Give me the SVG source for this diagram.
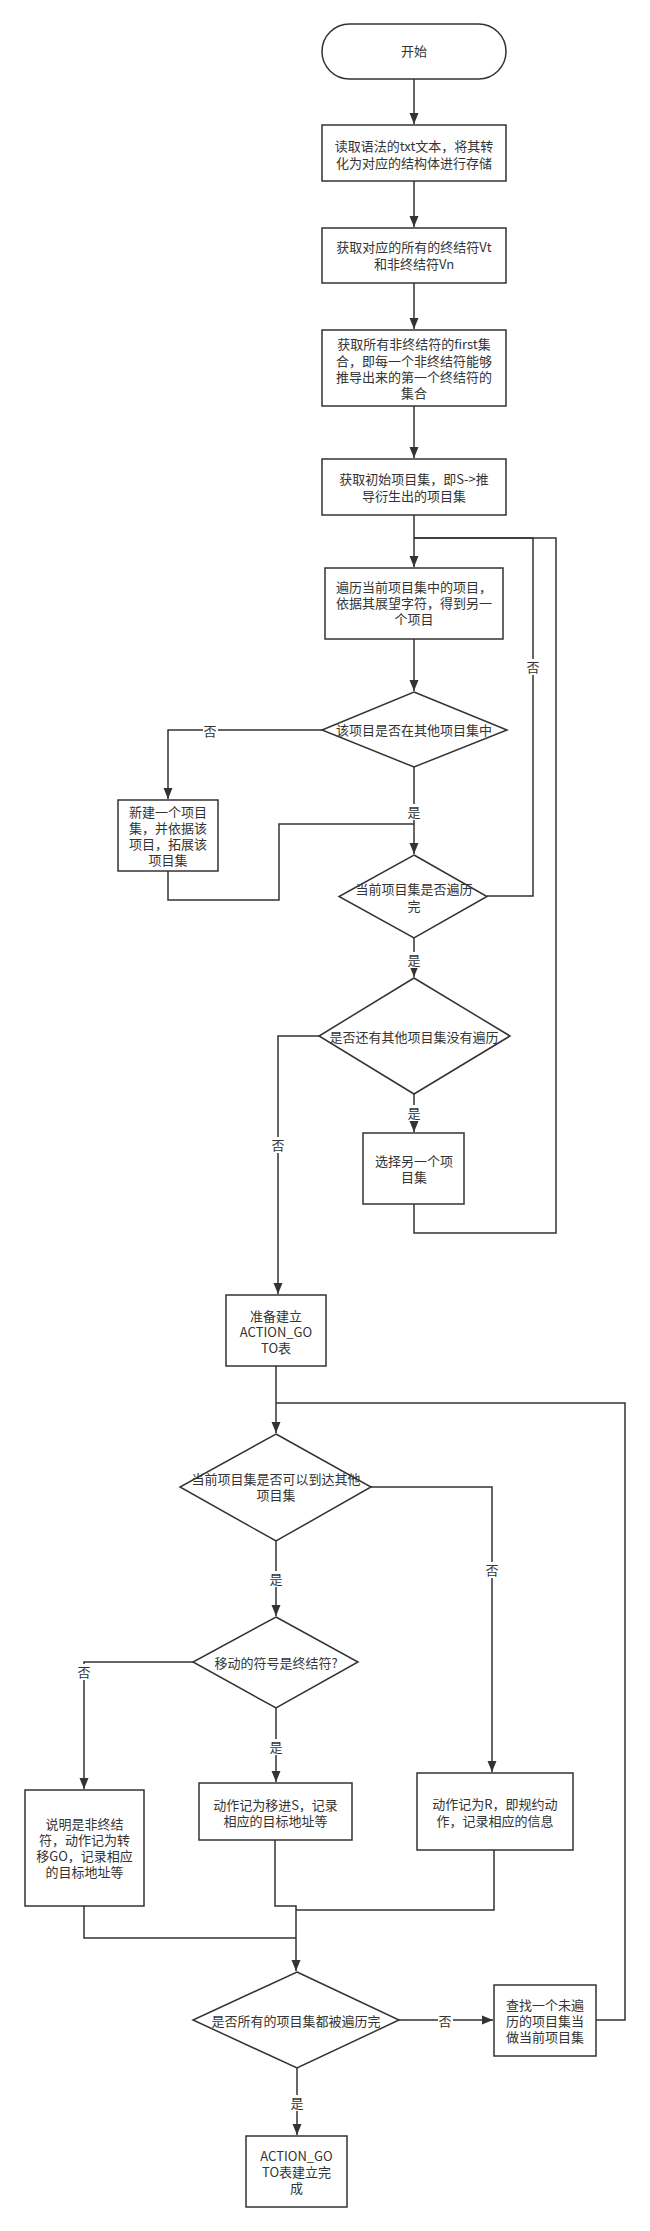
<svg xmlns="http://www.w3.org/2000/svg" width="650" height="2231" viewBox="0 0 650 2231">
<defs>
<style>
.n{fill:#fff;stroke:#333;stroke-width:1.5}
.e{fill:none;stroke:#333;stroke-width:1.5}
.t{font-family:"Noto Sans CJK SC","Noto Sans",sans-serif;font-size:13px;fill:#333;text-anchor:middle}
.lb{fill:#fff}
</style>
<marker id="ar" markerUnits="userSpaceOnUse" markerWidth="12" markerHeight="10" refX="11" refY="5" orient="auto">
<path d="M0,0.5 L11,5 L0,9.5 z" fill="#333"/>
</marker>
</defs>
<rect width="650" height="2231" fill="#fff"/>
<g id="connectors">
<path class="e" d="M414,79 V124" marker-end="url(#ar)"/>
<path class="e" d="M414,181 V227" marker-end="url(#ar)"/>
<path class="e" d="M414,283 V329" marker-end="url(#ar)"/>
<path class="e" d="M414,406 V458" marker-end="url(#ar)"/>
<path class="e" d="M414,515 V567" marker-end="url(#ar)"/>
<path class="e" d="M414,639 V691" marker-end="url(#ar)"/>
<path class="e" d="M322,730 H168 V799" marker-end="url(#ar)"/>
<path class="e" d="M414,767 V854" marker-end="url(#ar)"/>
<path class="e" d="M168,871 V900 H279 V824 H414"/>
<path class="e" d="M487,896 H533 V538 H414"/>
<path class="e" d="M414,938 V977" marker-end="url(#ar)"/>
<path class="e" d="M414,1094 V1132" marker-end="url(#ar)"/>
<path class="e" d="M414,1204 V1233 H556 V538 H414"/>
<path class="e" d="M319,1036 H278 V1294" marker-end="url(#ar)"/>
<path class="e" d="M276,1366 V1433" marker-end="url(#ar)"/>
<path class="e" d="M371,1487 H492 V1772" marker-end="url(#ar)"/>
<path class="e" d="M276,1541 V1616" marker-end="url(#ar)"/>
<path class="e" d="M193,1662 H84 V1789" marker-end="url(#ar)"/>
<path class="e" d="M276,1708 V1782" marker-end="url(#ar)"/>
<path class="e" d="M275,1840 V1906 H296 V1971" marker-end="url(#ar)"/>
<path class="e" d="M494,1850 V1910 H296"/>
<path class="e" d="M84,1906 V1938 H296"/>
<path class="e" d="M399,2020 H493" marker-end="url(#ar)"/>
<path class="e" d="M596,2020 H625 V1403 H276"/>
<path class="e" d="M297,2068 V2135" marker-end="url(#ar)"/>
<rect class="lb" x="203" y="722" width="15" height="16"/><text class="t" x="210" y="736">否</text>
<rect class="lb" x="407" y="804" width="15" height="16"/><text class="t" x="414" y="817">是</text>
<rect class="lb" x="526" y="659" width="15" height="16"/><text class="t" x="533" y="672">否</text>
<rect class="lb" x="407" y="952" width="15" height="16"/><text class="t" x="414" y="965">是</text>
<rect class="lb" x="407" y="1105" width="15" height="16"/><text class="t" x="414" y="1118">是</text>
<rect class="lb" x="271" y="1137" width="15" height="16"/><text class="t" x="278" y="1150">否</text>
<rect class="lb" x="485" y="1562" width="15" height="16"/><text class="t" x="492" y="1575">否</text>
<rect class="lb" x="269" y="1571" width="15" height="16"/><text class="t" x="276" y="1584">是</text>
<rect class="lb" x="77" y="1664" width="15" height="16"/><text class="t" x="84" y="1677">否</text>
<rect class="lb" x="269" y="1739" width="15" height="16"/><text class="t" x="276" y="1752">是</text>
<rect class="lb" x="438" y="2013" width="15" height="16"/><text class="t" x="445" y="2026">否</text>
<rect class="lb" x="290" y="2095" width="15" height="16"/><text class="t" x="297" y="2108">是</text>
</g>
<g id="start"><rect class="n" x="322" y="24" width="184" height="55" rx="27.5"/><text class="t" x="414" y="56">开始</text></g>
<g id="read"><rect class="n" x="322" y="125" width="184" height="56"/><text class="t" x="414" y="151">读取语法的txt文本，将其转</text><text class="t" x="414" y="168">化为对应的结构体进行存储</text></g>
<g id="vtvn"><rect class="n" x="322" y="228" width="184" height="55"/><text class="t" x="414" y="252">获取对应的所有的终结符Vt</text><text class="t" x="414" y="269">和非终结符Vn</text></g>
<g id="first"><rect class="n" x="322" y="330" width="184" height="76"/><text class="t" x="414" y="349">获取所有非终结符的first集</text><text class="t" x="414" y="366">合，即每一个非终结符能够</text><text class="t" x="414" y="382">推导出来的第一个终结符的</text><text class="t" x="414" y="398">集合</text></g>
<g id="init"><rect class="n" x="322" y="459" width="184" height="56"/><text class="t" x="414" y="484">获取初始项目集，即S-&gt;推</text><text class="t" x="414" y="501">导衍生出的项目集</text></g>
<g id="traverse"><rect class="n" x="325" y="568" width="178" height="71"/><text class="t" x="414" y="592">遍历当前项目集中的项目，</text><text class="t" x="414" y="608">依据其展望字符，得到另一</text><text class="t" x="414" y="624">个项目</text></g>
<g id="d1"><path class="n" d="M414,692 L507,730 L414,767 L322,730 Z"/><text class="t" x="414" y="735">该项目是否在其他项目集中</text></g>
<g id="newset"><rect class="n" x="118" y="800" width="100" height="71"/><text class="t" x="168" y="817">新建一个项目</text><text class="t" x="168" y="833">集，并依据该</text><text class="t" x="168" y="849">项目，拓展该</text><text class="t" x="168" y="865">项目集</text></g>
<g id="d2"><path class="n" d="M414,855 L487,896.5 L414,938 L339,896.5 Z"/><text class="t" x="414" y="894">当前项目集是否遍历</text><text class="t" x="414" y="911">完</text></g>
<g id="d3"><path class="n" d="M414,978 L510,1036 L414,1094 L319,1036 Z"/><text class="t" x="414" y="1042">是否还有其他项目集没有遍历</text></g>
<g id="choose"><rect class="n" x="363" y="1133" width="101" height="71"/><text class="t" x="414" y="1166">选择另一个项</text><text class="t" x="414" y="1182">目集</text></g>
<g id="prep"><rect class="n" x="226" y="1295" width="100" height="71"/><text class="t" x="276" y="1321">准备建立</text><text class="t" x="276" y="1337">ACTION_GO</text><text class="t" x="276" y="1353">TO表</text></g>
<g id="d4"><path class="n" d="M276,1434 L371,1487 L276,1541 L180,1487 Z"/><text class="t" x="276" y="1484">当前项目集是否可以到达其他</text><text class="t" x="276" y="1500">项目集</text></g>
<g id="d5"><path class="n" d="M276,1617 L358,1662 L276,1708 L193,1662 Z"/><text class="t" x="276" y="1668">移动的符号是终结符?</text></g>
<g id="goto"><rect class="n" x="25" y="1790" width="119" height="116"/><text class="t" x="84.5" y="1829">说明是非终结</text><text class="t" x="84.5" y="1845">符，动作记为转</text><text class="t" x="84.5" y="1861">移GO，记录相应</text><text class="t" x="84.5" y="1877">的目标地址等</text></g>
<g id="shift"><rect class="n" x="199" y="1783" width="153" height="57"/><text class="t" x="275.5" y="1810">动作记为移进S，记录</text><text class="t" x="275.5" y="1826">相应的目标地址等</text></g>
<g id="reduce"><rect class="n" x="417" y="1773" width="156" height="77"/><text class="t" x="495" y="1809">动作记为R，即规约动</text><text class="t" x="495" y="1826">作，记录相应的信息</text></g>
<g id="d6"><path class="n" d="M297,1972 L399,2020 L297,2068 L193,2020 Z"/><text class="t" x="296" y="2026">是否所有的项目集都被遍历完</text></g>
<g id="findnext"><rect class="n" x="494" y="1985" width="102" height="71"/><text class="t" x="545" y="2010">查找一个未遍</text><text class="t" x="545" y="2026">历的项目集当</text><text class="t" x="545" y="2042">做当前项目集</text></g>
<g id="done"><rect class="n" x="246" y="2136" width="101" height="71"/><text class="t" x="296.5" y="2161">ACTION_GO</text><text class="t" x="296.5" y="2177">TO表建立完</text><text class="t" x="296.5" y="2193">成</text></g>
</svg>
